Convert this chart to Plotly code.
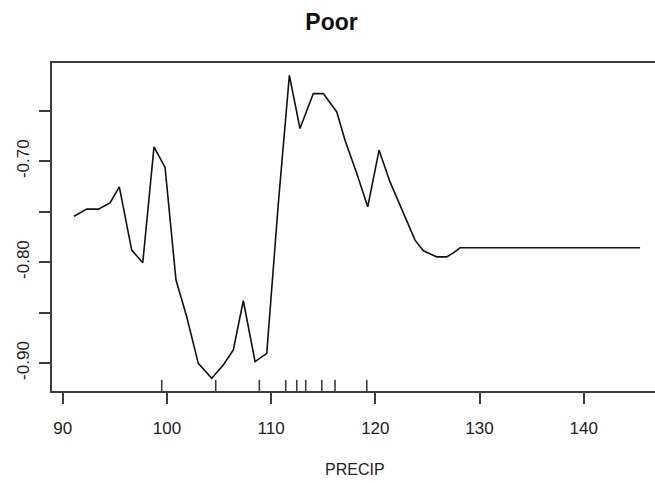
import plotly.graph_objects as go

# Curve (PRECIP vs partial effect)
precip = [91.08, 92.30, 93.42, 94.54, 95.43, 96.62, 97.68, 98.76, 99.82, 100.87,
          101.90, 103.01, 104.30, 105.41, 106.37, 107.33, 108.46, 109.58, 110.69, 111.75,
          112.77, 114.05, 115.01, 116.30, 117.09, 118.22, 119.27, 120.36, 121.41, 122.53,
          123.81, 124.61, 125.89, 126.85, 127.49, 128.13, 145.41]
effect = [-0.7545, -0.7475, -0.7475, -0.7413, -0.7254, -0.7881, -0.8007, -0.6858, -0.7062, -0.8178,
          -0.8542, -0.9003, -0.9151, -0.9020, -0.8871, -0.8383, -0.8987, -0.8904, -0.7419, -0.6149,
          -0.6676, -0.6330, -0.6330, -0.6512, -0.6792, -0.7122, -0.7452, -0.6891, -0.7205, -0.7468,
          -0.7782, -0.7888, -0.7948, -0.7948, -0.7908, -0.7858, -0.7858]

# Rug (observed PRECIP values)
rug = [99.5, 104.68, 108.87, 111.4, 112.46, 113.32, 114.86, 116.13, 119.18]

x_ticks = [90, 100, 110, 120, 130, 140]
y_ticks = [-0.65, -0.70, -0.75, -0.80, -0.85, -0.90]
y_ticklabels = ["", "-0.70", "", "-0.80", "", "-0.90"]

title_text = "Poor"
x_label = "PRECIP"

FONT = "Liberation Sans, Arial, sans-serif"
AX = "#3c3c3c"

fig = go.Figure()
fig.add_trace(go.Scatter(x=precip, y=effect, mode="lines",
                         line=dict(color="#111111", width=1.6),
                         showlegend=False, hoverinfo="skip"))

for r in rug:
    fig.add_shape(type="line", xref="x", yref="paper", x0=r, x1=r, y0=0, y1=0.034,
                  line=dict(color=AX, width=1.6))

fig.update_layout(
    width=655, height=483,
    margin=dict(l=52, r=0, t=63, b=92),
    paper_bgcolor="white", plot_bgcolor="white",
    font=dict(family=FONT, size=17, color="#222222"),
    title=dict(text=f"<b>{title_text}</b>", xref="container", yref="container",
               x=331.5 / 655, y=1 - 21.5 / 483, xanchor="center", yanchor="middle",
               font=dict(family=FONT, size=23, color="#111111")),
    annotations=[dict(text=x_label, xref="paper", yref="paper", x=0.5033, y=-(470 - 391) / 328,
                      xanchor="center", yanchor="middle", showarrow=False,
                      font=dict(family=FONT, size=16, color="#222222"))],
)

fig.update_xaxes(range=[88.97, 146.84], tickmode="array", tickvals=x_ticks,
                 ticktext=[str(v) for v in x_ticks],
                 showgrid=False, zeroline=False, showline=True, linecolor=AX, linewidth=2,
                 mirror=True, ticks="outside", ticklen=11, tickwidth=1.6, tickcolor=AX,
                 ticklabelstandoff=10)
fig.update_yaxes(range=[-0.9277, -0.6027], tickmode="array", tickvals=y_ticks,
                 ticktext=y_ticklabels, tickangle=-90,
                 showgrid=False, zeroline=False, showline=True, linecolor=AX, linewidth=2,
                 mirror=False, ticks="outside", ticklen=11, tickwidth=1.6, tickcolor=AX,
                 ticklabelstandoff=3)

fig.write_html("out.html")
